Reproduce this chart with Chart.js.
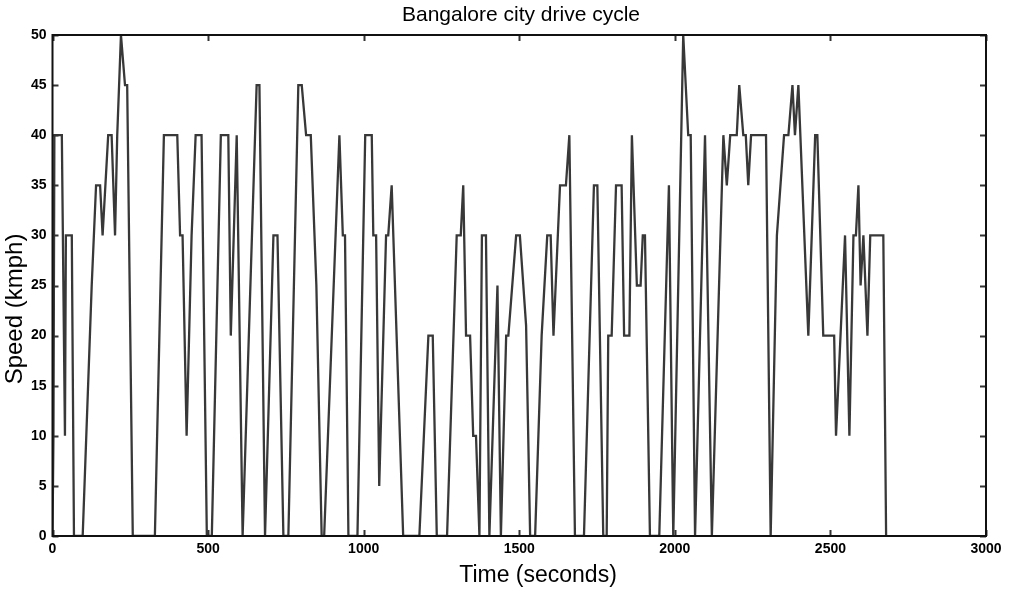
<!DOCTYPE html>
<html>
<head>
<meta charset="utf-8">
<script src="https://cdn.jsdelivr.net/npm/chart.js@4.4.1/dist/chart.umd.min.js"></script>
<style>
  html, body { margin: 0; padding: 0; background: #fff; }
  #wrap { width: 1011px; height: 591px; }
</style>
</head>
<body>
<div id="wrap"><canvas id="cycle" width="1011" height="591"></canvas></div>
<script>
// time (s) and speed (kmph)
const timeSec = [
  0, 3, 6, 30, 40, 43, 62, 69, 97, 126, 140, 153, 161, 179, 190, 201, 208, 220, 233, 240,
  258, 329, 358, 401, 410, 418, 431, 447, 460, 479, 496, 512, 541, 565, 573, 592, 611, 656, 665, 683,
  710, 723, 742, 758, 790, 801, 815, 830, 848, 865, 873, 922, 933, 940, 951, 980, 1005, 1026, 1031, 1040,
  1050, 1072, 1079, 1090, 1127, 1179, 1208, 1222, 1235, 1268, 1299, 1312, 1320, 1329, 1342, 1352, 1361, 1372, 1380, 1393,
  1404, 1430, 1441, 1458, 1465, 1490, 1502, 1522, 1535, 1551, 1572, 1590, 1601, 1610, 1631, 1650, 1661, 1679, 1708, 1740,
  1751, 1770, 1781, 1786, 1797, 1811, 1829, 1837, 1854, 1862, 1878, 1890, 1897, 1904, 1920, 1950, 1981, 1995, 2027, 2043,
  2051, 2065, 2097, 2119, 2156, 2167, 2178, 2199, 2207, 2220, 2228, 2236, 2245, 2293, 2308, 2328, 2351, 2365, 2378, 2386,
  2397, 2429, 2451, 2458, 2477, 2512, 2518, 2547, 2561, 2574, 2582, 2590, 2597, 2606, 2619, 2628, 2670, 2679
];
const speedKmph = [
  0, 10, 40, 40, 10, 30, 30, 0, 0, 25, 35, 35, 30, 40, 40, 30, 40, 50, 45, 45,
  0, 0, 40, 40, 30, 30, 10, 30, 40, 40, 0, 0, 40, 40, 20, 40, 0, 45, 45, 0,
  30, 30, 0, 0, 45, 45, 40, 40, 25, 0, 0, 40, 30, 30, 0, 0, 40, 40, 30, 30,
  5, 30, 30, 35, 0, 0, 20, 20, 0, 0, 30, 30, 35, 20, 20, 10, 10, 0, 30, 30,
  0, 25, 0, 20, 20, 30, 30, 21, 0, 0, 20, 30, 30, 20, 35, 35, 40, 0, 0, 35,
  35, 0, 0, 20, 20, 35, 35, 20, 20, 40, 25, 25, 30, 30, 0, 0, 35, 0, 50, 40,
  40, 0, 40, 0, 40, 35, 40, 40, 45, 40, 40, 35, 40, 40, 0, 30, 40, 40, 45, 40,
  45, 20, 40, 40, 20, 20, 10, 30, 10, 30, 30, 35, 25, 30, 20, 30, 30, 0
];
const xTicks = [0, 500, 1000, 1500, 2000, 2500, 3000];
const yTicks = [0, 5, 10, 15, 20, 25, 30, 35, 40, 45, 50];

const chartTitle = 'Bangalore city drive cycle';
const xTitle = 'Time (seconds)';
const yTitle = 'Speed (kmph)';

const points = timeSec.map((t, i) => ({ x: t, y: speedKmph[i] }));

const FONT = 'Liberation Sans, Arial, sans-serif';

// cadre noir, graduations vers l'intérieur et titres (style matlab)
const frame = {
  id: 'frame',
  afterDraw(chart) {
    const { ctx, chartArea: a, scales } = chart;
    ctx.save();
    ctx.strokeStyle = '#333';
    ctx.lineWidth = 2;
    const len = 6;
    ctx.beginPath();
    for (const v of yTicks) {
      const y = Math.round(scales.y.getPixelForValue(v)) + 0.5;
      ctx.moveTo(a.left, y); ctx.lineTo(a.left + len, y);
      ctx.moveTo(a.right, y); ctx.lineTo(a.right - len, y);
    }
    for (const v of xTicks) {
      const x = Math.round(scales.x.getPixelForValue(v)) + 0.5;
      ctx.moveTo(x, a.bottom); ctx.lineTo(x, a.bottom - len);
      ctx.moveTo(x, a.top); ctx.lineTo(x, a.top + len);
    }
    ctx.stroke();
    ctx.strokeStyle = '#111';
    ctx.strokeRect(a.left, a.top, a.right - a.left, a.bottom - a.top);

    // titres
    ctx.fillStyle = '#000';
    ctx.textAlign = 'center';
    ctx.textBaseline = 'middle';
    ctx.font = '21px ' + FONT;
    ctx.fillText(chartTitle, 521, 15);
    ctx.font = '23px ' + FONT;
    ctx.fillText(xTitle, 538, 576);
    ctx.font = '24px ' + FONT;
    ctx.translate(15, 309);
    ctx.rotate(-Math.PI / 2);
    ctx.fillText(yTitle, 0, 0);
    ctx.restore();
  }
};

const tickFont = { family: FONT, size: 14, weight: 'bold' };

new Chart(document.getElementById('cycle'), {
  type: 'line',
  data: {
    datasets: [{
      data: points,
      borderColor: '#383838',
      borderWidth: 2.3,
      pointRadius: 0,
      tension: 0,
      fill: false
    }]
  },
  options: {
    responsive: false,
    animation: false,
    layout: { padding: { left: 0, right: 25, top: 35, bottom: 0 } },
    plugins: {
      legend: { display: false },
      tooltip: { enabled: false },
      title: { display: false }
    },
    scales: {
      x: {
        type: 'linear',
        min: 0,
        max: 3000,
        afterBuildTicks: s => { s.ticks = xTicks.map(v => ({ value: v })); },
        afterFit: s => { s.height = 55; },
        grid: { display: false, drawTicks: false },
        border: { display: false },
        ticks: { color: '#000', font: tickFont, padding: 5, maxRotation: 0, callback: v => String(v) }
      },
      y: {
        type: 'linear',
        min: 0,
        max: 50,
        afterBuildTicks: s => { s.ticks = yTicks.map(v => ({ value: v })); },
        afterFit: s => { s.width = 52.5; },
        grid: { display: false, drawTicks: false },
        border: { display: false },
        ticks: { color: '#000', font: tickFont, padding: 6, callback: v => String(v) }
      }
    }
  },
  plugins: [frame]
});
</script>
</body>
</html>
